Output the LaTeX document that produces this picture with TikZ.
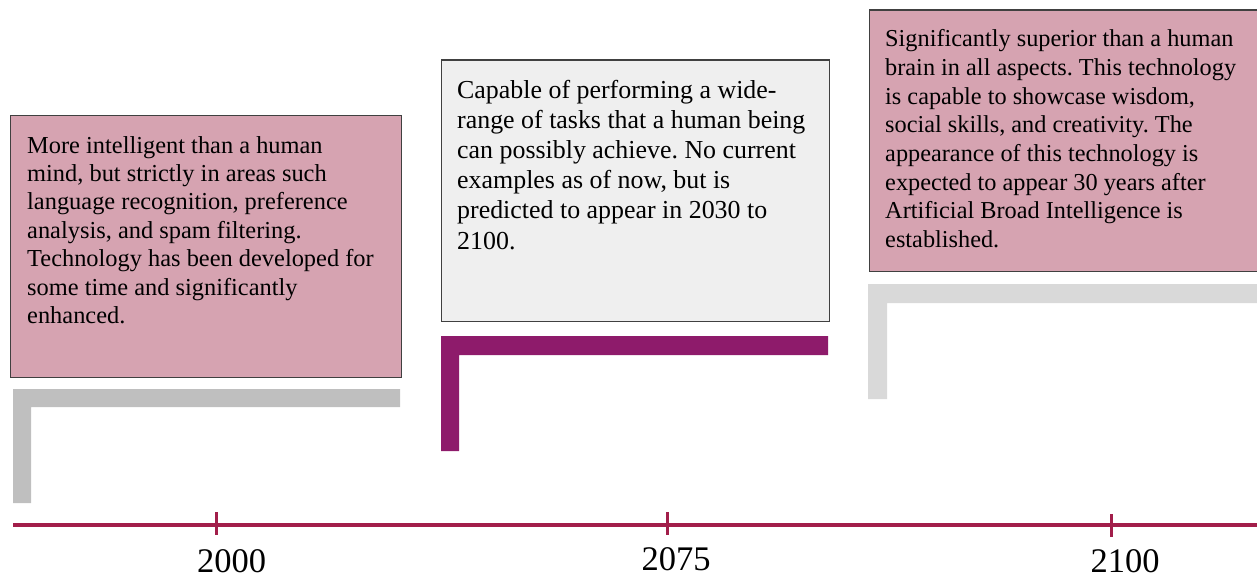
\documentclass[tikz,border=0pt]{standalone}
\usepackage{fontspec}
\setmainfont{Liberation Serif}
\frenchspacing
\definecolor{rosefill}{HTML}{D6A3B1}
\definecolor{greyfill}{HTML}{EFEFEF}
\definecolor{boxline}{HTML}{404040}
\definecolor{axisred}{HTML}{A21E4A}
\definecolor{plum}{HTML}{8E1B6B}
\definecolor{midgrey}{HTML}{BFBFBF}
\definecolor{lightgrey}{HTML}{D9D9D9}
\tikzset{
  card/.style={draw=boxline, line width=1.8pt, rectangle, inner sep=0pt},
  cardtext/.style={anchor=base west, inner sep=0pt, text=black},
  axisline/.style={draw=axisred, line width=4pt},
  tickline/.style={draw=axisred, line width=3pt},
  yearlabel/.style={anchor=base, inner sep=0pt, font=\fontsize{34.5}{40}\selectfont},
}
\begin{document}
\begin{tikzpicture}[x=1pt,y=-1pt]
\useasboundingbox (0,0) rectangle (1257,578);

% bracket shapes under each card
\fill[midgrey]   (13,389) -- (400,389) -- (400,407) -- (31,407) -- (31,503) -- (13,503) -- cycle;
\fill[plum]      (441,336) -- (828,336) -- (828,355) -- (459,355) -- (459,451) -- (441,451) -- cycle;
\fill[lightgrey] (868,284) -- (1257,284) -- (1257,303) -- (887,303) -- (887,399) -- (868,399) -- cycle;

% cards
\node[card, fill=rosefill, minimum width=391pt, minimum height=262pt, anchor=north west] (narrow) at (9.5,114.5) {};
\node[card, fill=greyfill, minimum width=388pt, minimum height=261pt, anchor=north west] (broad) at (440.5,59.5) {};
\node[card, fill=rosefill, minimum width=388pt, minimum height=261pt, anchor=north west] (super) at (868.5,9.5) {};

\node[cardtext] (narrowtext) at (27,153) {\parbox[t]{370pt}{\raggedright\fontsize{24.4}{28.4}\selectfont
More intelligent than a human\\
mind, but strictly in areas such\\
language recognition, preference\\
analysis, and spam filtering.\\
Technology has been developed for\\
some time and significantly\\
enhanced.}};

\node[cardtext] (broadtext) at (457,98) {\parbox[t]{370pt}{\raggedright\fontsize{25.9}{30.2}\selectfont
Capable of performing a wide-\\
range of tasks that a human being\\
can possibly achieve. No current\\
examples as of now, but is\\
predicted to appear in 2030 to\\
2100.}};

\node[cardtext] (supertext) at (885,47) {\parbox[t]{370pt}{\raggedright\fontsize{24.3}{28.6}\selectfont
Significantly superior than a human\\
brain in all aspects. This technology\\
is capable to showcase wisdom,\\
social skills, and creativity. The\\
appearance of this technology is\\
expected to appear 30 years after\\
Artificial Broad Intelligence is\\
established.}};

% time axis
\coordinate (axisstart) at (13,525);
\coordinate (axisend) at (1257,525);
\draw[axisline] (axisstart) -- (axisend);

\coordinate (tickAtop) at (216.5,512);
\coordinate (tickAbot) at (216.5,535);
\coordinate (tickBtop) at (667,512);
\coordinate (tickBbot) at (667,535);
\coordinate (tickCtop) at (1111,514);
\coordinate (tickCbot) at (1111,537);
\draw[tickline] (tickAtop) -- (tickAbot);
\draw[tickline] (tickBtop) -- (tickBbot);
\draw[tickline] (tickCtop) -- (tickCbot);

\node[yearlabel] (yearA) at (231.5,572) {2000};
\node[yearlabel] (yearB) at (676,570) {2075};
\node[yearlabel] (yearC) at (1125,572) {2100};
\end{tikzpicture}
\end{document}
